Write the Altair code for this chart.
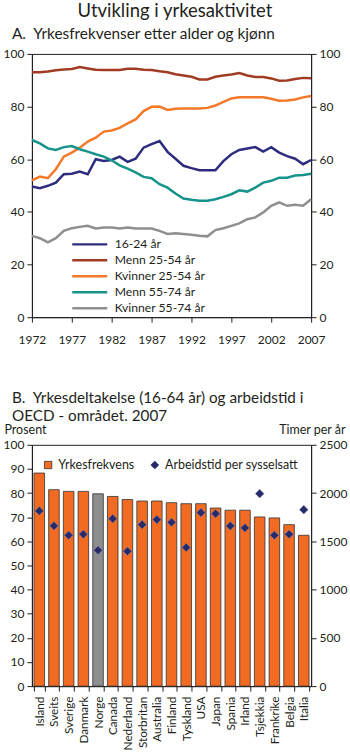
import altair as alt
import pandas as pd

FONT = "Lato"
AXC = "#231f20"

# ---------------- Panel A data ----------------
years = list(range(1972, 2008))
s_16_24 = [49.6, 49.0, 49.9, 51.1, 54.3, 54.5, 55.3, 54.3, 60.0, 59.3, 59.7, 61.0,
           59.0, 60.2, 64.4, 65.7, 66.9, 62.8, 60.2, 57.5, 56.6, 55.8, 55.8, 55.8,
           59.3, 61.9, 63.5, 64.1, 64.6, 62.9, 64.6, 62.5, 61.2, 60.2, 58.1, 59.7]
s_menn_25_54 = [93.0, 93.0, 93.3, 93.8, 94.1, 94.3, 95.0, 94.5, 94.0, 93.9, 93.9, 93.9,
                94.4, 94.4, 94.0, 93.9, 93.4, 93.0, 92.3, 91.8, 91.3, 90.3, 90.3, 91.3,
                91.8, 92.2, 92.7, 91.8, 91.2, 91.2, 90.7, 89.8, 89.9, 90.5, 90.9, 90.8]
s_kvinner_25_54 = [52.0, 53.4, 52.8, 56.2, 61.0, 62.5, 64.4, 66.7, 68.2, 70.5, 70.9, 71.9,
                   73.6, 75.1, 78.3, 79.9, 80.0, 78.7, 79.2, 79.3, 79.3, 79.3, 79.5, 80.4,
                   81.8, 83.1, 83.5, 83.5, 83.5, 83.5, 83.0, 82.2, 82.3, 82.7, 83.5, 84.0]
s_menn_55_74 = [67.3, 66.0, 64.1, 63.5, 64.6, 65.0, 63.8, 62.9, 61.9, 61.0, 59.6, 57.7,
                56.4, 55.0, 53.3, 52.8, 50.5, 49.2, 47.0, 45.1, 44.6, 44.2, 44.2, 44.8,
                45.7, 46.7, 48.2, 47.7, 49.2, 51.1, 51.8, 53.0, 53.0, 53.8, 54.0, 54.5]
s_kvinner_55_74 = [30.9, 30.0, 28.4, 30.0, 32.8, 33.8, 34.3, 34.7, 33.7, 34.1, 34.1, 33.7,
                   34.1, 33.7, 33.7, 33.7, 32.8, 31.6, 31.9, 31.6, 31.3, 30.9, 30.7, 33.1,
                   33.8, 34.7, 35.6, 37.2, 37.9, 39.8, 42.3, 43.6, 42.3, 42.7, 42.3, 44.8]

series_names = ["16-24 år", "Menn 25-54 år", "Kvinner 25-54 år", "Menn 55-74 år", "Kvinner 55-74 år"]
series_colors = ["#2e2c7e", "#a23b24", "#f47a2a", "#16938b", "#8f8f8f"]
year_ticks = [1972, 1977, 1982, 1987, 1992, 1997, 2002, 2007]
y_ticks_a = [0, 20, 40, 60, 80, 100]

# ---------------- Panel B data ----------------
countries = ["Island", "Sveits", "Sverige", "Danmark", "Norge", "Canada", "Nederland",
             "Storbritan", "Australia", "Finland", "Tyskland", "USA", "Japan", "Spania",
             "Irland", "Tsjekkia", "Frankrike", "Belgia", "Italia"]
yrkesfrekvens = [88.3, 81.4, 80.7, 80.7, 79.7, 78.6, 77.3, 76.7, 76.7, 76.0, 75.6, 75.6,
                 73.8, 72.9, 72.9, 70.1, 69.7, 66.9, 62.5]
arbeidstid = [1815, 1660, 1563, 1573, 1408, 1735, 1397, 1673, 1725, 1697, 1436, 1797,
              1787, 1660, 1639, 1994, 1563, 1573, 1828]
y_ticks_b_left = [0, 10, 20, 30, 40, 50, 60, 70, 80, 90, 100]
y_ticks_b_right = [0, 500, 1000, 1500, 2000, 2500]

# ---------------- tables ----------------
series_values = [s_16_24, s_menn_25_54, s_kvinner_25_54, s_menn_55_74, s_kvinner_55_74]
dfA = pd.DataFrame([
    {"year": y, "value": v, "serie": name}
    for name, vals in zip(series_names, series_values)
    for y, v in zip(years, vals)
])

dfB = pd.DataFrame({
    "land": countries,
    "yrkes": yrkesfrekvens,
    "timer": arbeidstid,
    "gruppe": ["Norge" if c == "Norge" else "Yrkesfrekvens" for c in countries],
    "mark": ["Arbeidstid per sysselsatt"] * len(countries),
})

# ---------------- Panel A ----------------
axis_common = dict(grid=False, title=None, labelFont=FONT, labelFontSize=12, labelColor=AXC,
                   domainColor=AXC, tickColor=AXC, tickSize=5)

xA = alt.X("year:Q", scale=alt.Scale(domain=[1972, 2007], nice=False, zero=False),
           axis=alt.Axis(values=year_ticks, format="d", labelPadding=12, labelFlush=False,
                         **axis_common))
yA_scale = alt.Scale(domain=[0, 100], nice=False)

linesA = alt.Chart(dfA).mark_line(strokeWidth=2.5).encode(
    x=xA,
    y=alt.Y("value:Q", scale=yA_scale,
            axis=alt.Axis(values=y_ticks_a, labelPadding=3, **axis_common)),
    color=alt.Color("serie:N", sort=series_names,
                    scale=alt.Scale(domain=series_names, range=series_colors),
                    legend=alt.Legend(title=None, orient="none", legendX=50, legendY=183,
                                      symbolType="M-2.7,0H2.7", symbolSize=169,
                                      symbolStrokeWidth=2.5, labelFont=FONT,
                                      labelFontSize=12.2, labelColor=AXC,
                                      labelOffset=17, rowPadding=1)),
)
rightA = alt.Chart(dfA).mark_line(opacity=0).encode(
    x=xA,
    y=alt.Y("value:Q", scale=yA_scale,
            axis=alt.Axis(values=y_ticks_a, orient="right", labelPadding=3, **axis_common)),
)
chartA = alt.layer(linesA, rightA).resolve_scale(y="independent").properties(
    width=280, height=264,
    title=alt.TitleParams("A.\u00a0\u00a0Yrkesfrekvenser etter alder og kjønn", anchor="start",
                          frame="group", dx=-20, font=FONT, fontSize=15.4,
                          fontWeight="normal", color=AXC, offset=6),
)

# ---------------- Panel B ----------------
xB = alt.X("land:N", sort=countries,
           scale=alt.Scale(paddingInner=0.28, paddingOuter=0.14),
           axis=alt.Axis(labelAngle=270, tickBand="extent", labelPadding=5,
                         **{**axis_common, "labelFontSize": 11.8}))

bars = alt.Chart(dfB).mark_bar(stroke="#333333", strokeWidth=0.8).encode(
    x=xB,
    y=alt.Y("yrkes:Q", scale=alt.Scale(domain=[0, 100], nice=False),
            axis=alt.Axis(values=y_ticks_b_left, labelPadding=3,
                          **{**axis_common, "title": "Prosent"},
                          titleAngle=0, titleAlign="left", titleX=-28, titleY=-8,
                          titleFont=FONT, titleFontSize=12.5, titleFontWeight="normal",
                          titleColor=AXC)),
    color=alt.Color("gruppe:N",
                    scale=alt.Scale(domain=["Yrkesfrekvens", "Norge"], range=["#f26b23", "#8e8e8e"]),
                    legend=alt.Legend(title=None, values=["Yrkesfrekvens"], orient="none",
                                      legendX=10, legendY=14, symbolType="square",
                                      symbolSize=55, symbolStrokeColor="#333333",
                                      symbolStrokeWidth=0.8, labelFont=FONT,
                                      labelFontSize=12.5, labelColor=AXC, labelOffset=4)),
)
points = alt.Chart(dfB).mark_point(shape="diamond", filled=True, size=75, color="#262a6b",
                                   opacity=1, stroke="#7a7fae", strokeWidth=0.6).encode(
    x=xB,
    y=alt.Y("timer:Q", scale=alt.Scale(domain=[0, 2500], nice=False),
            axis=alt.Axis(values=y_ticks_b_right, orient="right", labelPadding=3, format="d",
                          **{**axis_common, "title": "Timer per år"},
                          titleAngle=0, titleAlign="right", titleX=34, titleY=-8,
                          titleFont=FONT, titleFontSize=12.5, titleFontWeight="normal",
                          titleColor=AXC)),
    shape=alt.Shape("mark:N", scale=alt.Scale(domain=["Arbeidstid per sysselsatt"], range=["diamond"]),
                    legend=alt.Legend(title=None, orient="none", legendX=117, legendY=14,
                                      symbolSize=75, symbolFillColor="#262a6b",
                                      symbolStrokeColor="#262a6b", labelFont=FONT,
                                      labelFontSize=12.5, labelColor=AXC, labelOffset=4)),
)
chartB = alt.layer(bars, points).resolve_scale(y="independent").properties(
    width=280, height=242,
    title=alt.TitleParams(["B.\u00a0\u00a0Yrkesdeltakelse (16-64 år) og arbeidstid i",
                           "\u00a0\u00a0\u00a0\u00a0\u00a0OECD - området. 2007"],
                          anchor="start", frame="group", dx=-20, font=FONT, fontSize=15.3,
                          fontWeight="normal", color=AXC, offset=0, lineHeight=18),
)

chart = alt.vconcat(chartA, chartB, spacing=44).resolve_scale(
    color="independent", shape="independent"
).resolve_legend(color="independent", shape="independent").properties(
    title=alt.TitleParams("Utvikling i yrkesaktivitet", anchor="middle", font=FONT,
                          fontSize=18.5, fontWeight="normal", color=AXC, offset=6),
    padding={"left": 2, "top": 0, "right": 2, "bottom": 0},
).configure_view(stroke=AXC, strokeWidth=1).configure_axis(domainWidth=1, tickWidth=1)

chart.save("out.html", embed_options={"renderer": "svg", "actions": False})
